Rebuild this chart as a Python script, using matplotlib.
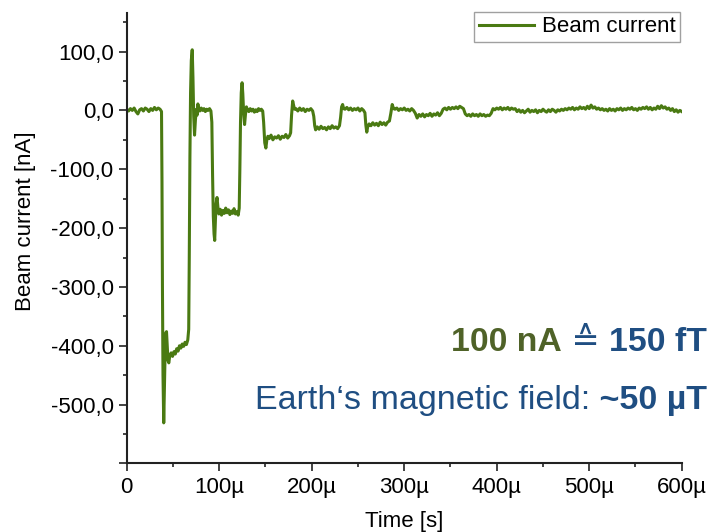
import matplotlib
matplotlib.use('Agg')
import matplotlib.pyplot as plt
from matplotlib.ticker import MultipleLocator, FuncFormatter

plt.rcParams['font.family'] = ['Liberation Sans', 'DejaVu Sans']

# trace, time in µs, current in nA (segment by segment)
time_us = [
    0, 2, 4, 6, 8, 10, 12, 14, 16, 18, 20, 22, 24, 26, 28, 30, 32, 34, 36, 37.6,
    38.1, 38.6, 39.2, 40.0, 40.7, 41.5, 42.2, 43.0, 43.8, 44.6,
    45.5, 46.5, 48, 49.5, 51, 52.5, 54, 55.5, 57, 58.5, 60, 61.5, 63, 64.5, 66, 67.0,
    67.6, 68.3, 69.0, 69.8, 70.8, 71.6, 72.4, 73.3, 74.3, 75.3, 76.1, 76.9,
    77.8, 79, 80.5, 82, 83.5, 85, 86.5, 88, 89.5, 91,
    92.0, 92.8, 93.6, 94.4, 95.1, 95.9, 96.7, 97.6, 98.6, 99.6, 101, 102.5, 104,
    105.5, 107, 108.5, 110, 111.5, 113, 114.5, 116, 117.5, 119, 120.5, 121.6,
    122.3, 123.0, 123.8, 124.7, 125.5, 126.4, 127.4, 128.4, 129.4, 130.5, 132,
    133.5, 135, 136.5, 138, 139.5, 141, 142.5, 144, 145.5, 147,
    148.0, 149.2, 150.4, 151.5, 152.6, 154, 156, 158, 160, 162, 164, 166, 168,
    170, 172, 174, 176, 177.2,
    178.2, 179.4, 180.5, 181.5, 183, 185, 187, 189, 191, 193, 195, 197, 199, 201,
    202.2, 203.2, 204.2, 206, 208, 210, 212, 214, 216, 218, 220, 222, 224, 226, 228, 230,
    231.2, 232.3, 233.4, 234.5, 236, 238, 240, 242, 244, 246, 248, 250, 252, 254, 256, 257.5,
    258.5, 259.5, 260.5, 262, 264, 266, 268, 270, 272, 274, 276, 278, 280, 282, 284,
    285.5, 287, 288.5, 290, 292, 294, 296, 298, 300, 302, 304, 306, 308, 310,
    312, 314, 316, 318, 320, 322, 324, 326, 328, 330, 332, 334, 336, 338, 340,
    342, 344, 346, 348, 350, 352, 354, 356, 358, 360, 362, 364,
    366, 368, 370, 372, 374, 376, 378, 380, 382, 384, 386, 388, 390, 392, 394,
    396, 398, 400, 402, 404, 406, 408, 410, 412, 414, 416, 418, 420,
    422, 424, 426, 428, 430, 432, 434, 436, 438, 440, 442, 444, 446, 448, 450,
    452, 454, 456, 458, 460, 462, 464, 466, 468, 470, 472, 474,
    476, 478, 480, 482, 484, 486, 488, 490, 492, 494, 496, 498, 500, 502, 504,
    506, 508, 510,
    512, 514, 516, 518, 520, 522, 524, 526, 528, 530, 532, 534, 536, 538, 540,
    542, 544, 546, 548, 550, 552, 554, 556, 558, 560, 562, 564, 566, 568, 570,
    572, 574, 576, 578, 580, 582, 584, 586, 588, 590, 592, 594, 596, 598, 600,
]
current_na = [
    2, -1, 3, 0, 4, -2, -6, 1, 3, -1, 4, 2, -2, 3, 0, 5, 1, 4, 2, -2,
    -120, -300, -450, -531, -470, -410, -378, -376, -402, -425,
    -429, -417, -412, -418, -410, -414, -405, -409, -400, -404, -397, -401, -394, -398, -390, -372,
    -250, -80, 30, 85, 103, 55, -10, -42, -15, 2, -8, 11,
    2, -1, 4, 0, 3, -2, 2, 0, 3, -1,
    -20, -110, -180, -210, -221, -185, -158, -148, -165, -176, -168, -178, -170,
    -175, -166, -174, -169, -177, -171, -175, -167, -176, -172, -178, -166,
    -100, -20, 30, 47, 28, -5, -24, -6, 6, 1, -2,
    3, -1, 2, -3, 1, -2, 3, 0, 2, -1,
    -20, -55, -64, -50, -44, -48, -42, -50, -45, -47, -43, -49, -44,
    -46, -41, -47, -43, -38,
    -8, 16, 8, 2, 3, -1, 4, 0, 3, -2, 2, 0, 3, -1,
    -10, -26, -33, -28, -32, -27, -31, -29, -33, -28, -31, -26, -30, -28, -31, -26,
    -12, 6, 10, 3, 2, 5, 1, 4, 0, 3, 1, 4, -1, 3, 0, -4,
    -25, -37, -28, -23, -26, -21, -25, -22, -26, -20, -24, -21, -25, -20, -18,
    -5, 10, 3, 2, 4, 0, 3, 1, 4, 0, 2, -1, 3, 0,
    -5, -13, -7, -10, -6, -11, -7, -9, -5, -10, -6, -8, -4, -9, -5,
    2, 4, 1, 5, 2, 5, 3, 6, 3, 7, 5, 3,
    -6, -9, -7, -10, -6, -9, -7, -10, -6, -9, -7, -10, -8, -9, -5,
    3, 1, 4, 2, 5, 1, 4, 2, 5, 1, 4, 2, 3,
    -2, 1, -3, 0, -4, -1, 2, -3, 0, -2, 1, -4, 0, -2, 2,
    -1, -3, 1, -2, 2, 0, -3, 1, -1, 2, 0, 3,
    1, 4, 2, 5, 1, 4, 2, 6, 3, 5, 2, 7, 3, 9, 4,
    6, 2, 4,
    1, 3, 0, 2, -1, 3, 0, 2, -1, 3, 1, 4, 0, 3, 1,
    4, 2, 5, 1, 3, 0, 4, 2, 5, 3, 6, 2, 5, 1, 4,
    2, 7, 3, 8, 4, 6, 2, 4, 0, 3, -2, 1, -3, 0, -2,
]
assert len(time_us) == len(current_na)

legend_label = 'Beam current'
line1 = [('100 nA', '#4f6228', 'bold'), (' \u2259 ', '#1f4e82', 'normal'),
         ('150 fT', '#1f4e82', 'bold')]
line2 = [('Earth\u2018s magnetic field:', '#1f4e82', 'normal'), (' ~50 µT', '#1f4e82', 'bold')]

LINE = '#4a7a12'

fig = plt.figure(figsize=(7.14, 5.32), dpi=100)
ax = fig.add_axes([0.1775, 0.1288, 0.7773, 0.8462])
ax.plot(time_us, current_na, color=LINE, lw=2.2, label=legend_label)
ax.set_xlim(0, 600)
ax.set_ylim(-600, 165)

for s in ('top', 'right'):
    ax.spines[s].set_visible(False)
for s in ('left', 'bottom'):
    ax.spines[s].set_linewidth(1.5)
    ax.spines[s].set_color('#222222')

ax.xaxis.set_major_locator(MultipleLocator(100))
ax.xaxis.set_minor_locator(MultipleLocator(50))
ax.yaxis.set_major_locator(MultipleLocator(100))
ax.yaxis.set_minor_locator(MultipleLocator(50))
ax.tick_params(which='major', direction='out', length=6, width=1.2, labelsize=16,
               color='#222222', pad=3.5)
ax.tick_params(which='minor', direction='out', length=3, width=1.2, color='#222222')
ax.xaxis.set_major_formatter(FuncFormatter(lambda v, p: '0' if v == 0 else f'{int(round(v))}µ'))
ax.yaxis.set_major_formatter(FuncFormatter(
    lambda v, p: '' if v <= -600 else f'{v:.1f}'.replace('.', ',')))

ax.set_xlabel('Time [s]', fontsize=16)
ax.set_ylabel('Beam current [nA]', fontsize=16)
ax.xaxis.set_label_coords(0.5, -0.105)
ax.yaxis.set_label_coords(-0.163, 0.538)

leg = ax.legend(loc='upper right', bbox_to_anchor=(0.9975, 1.003), fontsize=16,
                fancybox=False, edgecolor='#a0a0a0', framealpha=1, borderpad=0.2,
                handlelength=2.5, handletextpad=0.35, borderaxespad=0)
leg.get_frame().set_linewidth(1.0)


def right_text(pieces, x, y, size):
    prev = None
    for s, col, wt in reversed(pieces):
        if prev is None:
            prev = ax.annotate(s, xy=(x, y), xycoords='figure fraction', ha='right',
                               va='baseline', color=col, fontweight=wt, fontsize=size)
        else:
            prev = ax.annotate(s, xy=(0, 0), xycoords=prev, ha='right', va='bottom',
                               color=col, fontweight=wt, fontsize=size)


right_text(line1, 0.9902, 0.3402, 24.3)
right_text(line2, 0.9902, 0.2312, 24.5)

fig.savefig('out.png', dpi=100)
